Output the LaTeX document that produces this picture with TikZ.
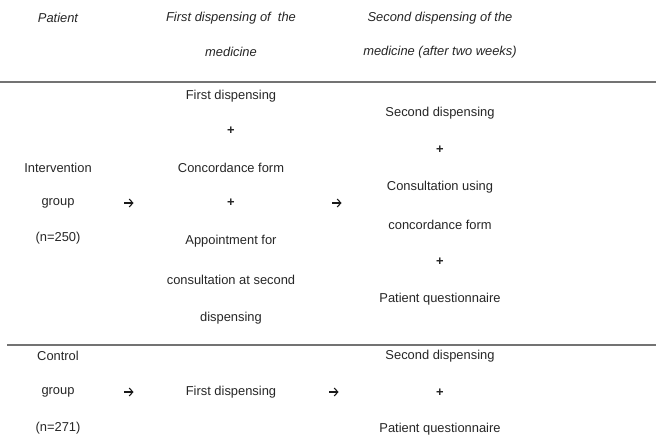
\documentclass[tikz,border=0pt]{standalone}
\usepackage{fontspec}
\usetikzlibrary{arrows.meta}
\setmainfont{Liberation Sans}
\begin{document}
\begin{tikzpicture}[x=1pt,y=-1pt,
  txt/.style={inner sep=0pt,anchor=center,font=\fontsize{12.9}{14}\selectfont,text=black!85},
  plus/.style={txt,font=\fontsize{12.9}{14}\selectfont\bfseries},
  hdr/.style={txt,font=\fontsize{12.9}{14}\selectfont\itshape},
  arrline/.style={line width=1.1pt,draw=black!90,-{Straight Barb[length=3.5pt,width=8pt,line width=1.1pt]}},
  rule/.style={line width=1.4pt,draw=black!55}]
\useasboundingbox (0,0) rectangle (656,441);
% header
\node[hdr] (h1) at (58,18) {Patient};
\node[hdr] (h2a) at (231,18) {First dispensing of \ the};
\node[hdr] (h2b) at (231,52) {medicine};
\node[hdr] (h3a) at (440,18) {Second dispensing of the};
\node[hdr] (h3b) at (440,52) {medicine (after two weeks)};
\coordinate (r1l) at (0,82);
\coordinate (r1r) at (656,82);
\draw[rule] (r1l) -- (r1r);
% intervention
\node[txt] (i1) at (58,168) {Intervention};
\node[txt] (i2) at (58,203) {group};
\node[txt] (i3) at (58,238) {(n=250)};
\coordinate (ia1s) at (124,203);
\coordinate (ia1e) at (133.5,203);
\draw[arrline] (ia1s) -- (ia1e);
\node[txt] (f1) at (231,96) {First dispensing};
\node[plus] (f2) at (231,131) {+};
\node[txt] (f3) at (231,168) {Concordance form};
\node[plus] (f4) at (231,203) {+};
\node[txt] (f5) at (231,241) {Appointment for};
\node[txt] (f6) at (231,280) {consultation at second};
\node[txt] (f7) at (231,318) {dispensing};
\coordinate (ia2s) at (332,203);
\coordinate (ia2e) at (341.5,203);
\draw[arrline] (ia2s) -- (ia2e);
\node[txt] (s1) at (440,113) {Second dispensing};
\node[plus] (s2) at (440,150) {+};
\node[txt] (s3) at (440,187) {Consultation using};
\node[txt] (s4) at (440,225) {concordance form};
\node[plus] (s5) at (440,262) {+};
\node[txt] (s6) at (440,299) {Patient questionnaire};
\coordinate (r2l) at (7,345);
\coordinate (r2r) at (656,345);
\draw[rule] (r2l) -- (r2r);
% control
\node[txt] (c1) at (58,356) {Control};
\node[txt] (c2) at (58,392) {group};
\node[txt] (c3) at (58,428) {(n=271)};
\coordinate (ca1s) at (124,392);
\coordinate (ca1e) at (133.5,392);
\draw[arrline] (ca1s) -- (ca1e);
\node[txt] (cf) at (231,392) {First dispensing};
\coordinate (ca2s) at (329,392);
\coordinate (ca2e) at (338.5,392);
\draw[arrline] (ca2s) -- (ca2e);
\node[txt] (cs1) at (440,356) {Second dispensing};
\node[plus] (cs2) at (440,393) {+};
\node[txt] (cs3) at (440,429) {Patient questionnaire};
\end{tikzpicture}
\end{document}
